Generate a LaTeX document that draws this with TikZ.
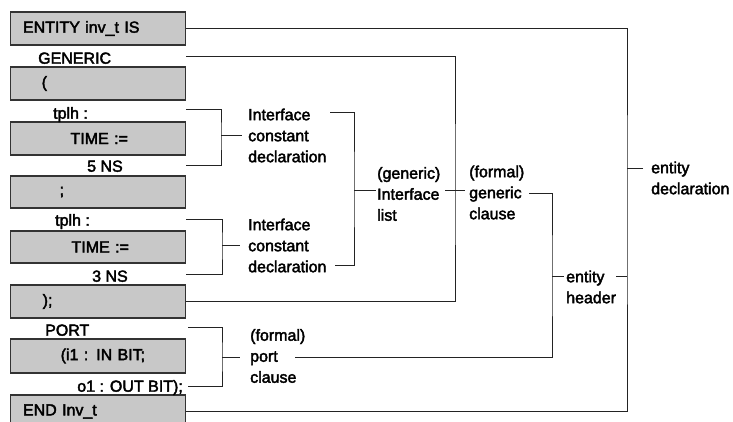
\documentclass[tikz,border=0pt]{standalone}
\usepackage{fontspec}
\setmainfont[FakeBold=2.5]{Liberation Sans}
\usetikzlibrary{calc}
\definecolor{boxgray}{RGB}{200,200,200}
\definecolor{wirec}{RGB}{35,35,35}
\begin{document}
\begin{tikzpicture}[x=1pt,y=-1pt,
  font=\fontsize{16}{21}\selectfont,
  codebox/.style={draw=black!80, fill=boxgray, line width=1.2pt,
    minimum width=175pt, minimum height=33pt, inner sep=0pt,
    text width=175pt, align=left},
  cbox/.style={codebox, align=center},
  code/.style={inner sep=0pt, anchor=base west},
  lbl/.style={inner sep=0pt, align=left, anchor=west},
  wire/.style={line width=1pt, draw=wirec}]
\fill[white] (0,0) rectangle (733,421);
\useasboundingbox (0,0) rectangle (733,421);

% code boxes
\node[codebox] (bent)  at (98.2,28.5) {\hspace*{12.3pt}ENTITY inv\_t IS};
\node[codebox] (bopen) at (98.2,83.5) {\hspace*{31pt}(};
\node[cbox, minimum height=33pt] (btime1) at (98.2,138.5) {\hspace*{2pt}TIME :=};
\node[codebox, minimum height=32pt] (bsemi) at (98.2,192) {\hspace*{49pt};};
\node[cbox, minimum height=32pt] (btime2) at (98.2,247) {\hspace*{4pt}TIME :=};
\node[codebox] (bclose) at (98.2,301.5) {\hspace*{32pt});};
\node[codebox, minimum height=34pt] (bport) at (98.2,356) {\hspace*{50pt}(i1 : IN BIT;};
\node[codebox] (bend)  at (98.2,411.5) {\hspace*{12.3pt}END Inv\_t};

% free code text
\node[code] (tgen)  at (38,63.7)  {GENERIC};
\node[code] (ttp1)  at (53,118.7) {tplh :};
\node[code] (t5ns)  at (87,171.7) {5 NS};
\node[code] (ttp2)  at (55,225.7) {tplh :};
\node[code] (t3ns)  at (92,281.7) {3 NS};
\node[code] (tport) at (45,335.7) {PORT};
\node[code, anchor=base east] (to1) at (183,391.7) {o1 : OUT BIT);};

% labels
\node[lbl] (icd1) at (248,135.5) {Interface\\constant\\declaration};
\node[lbl] (icd2) at (248,245.5) {Interface\\constant\\declaration};
\node[lbl] (gil)  at (377,194)   {(generic)\\Interface\\list};
\node[lbl] (fgc)  at (469,192.5) {(formal)\\generic\\clause};
\node[lbl] (pc)   at (250,356)   {(formal)\\port\\clause};
\node[lbl] (eh)   at (566,287)   {entity\\header};
\node[lbl] (ed)   at (651,178)   {entity\\declaration};

% junction / end coordinates
\coordinate (jd) at (627,200);
\coordinate (jg) at (455,190);
\coordinate (ji) at (354,190);
\coordinate (j1) at (221,135);
\coordinate (j2) at (222,245);
\coordinate (jp) at (222,357);
\coordinate (jh) at (552,276);
\coordinate (gen-out) at (186,56);
\coordinate (t1-out) at (186,109);
\coordinate (n5-out) at (186,165);
\coordinate (t2-out) at (186,219);
\coordinate (n3-out) at (186,274);
\coordinate (port-out) at (188,327);
\coordinate (o1-out) at (188,386);
\coordinate (icd1-out) at (330,112);
\coordinate (icd2-out) at (335,265);
\coordinate (gil-out) at (445,190);
\coordinate (fgc-in) at (465,190);
\coordinate (fgc-out) at (529,193);
\coordinate (pc-out) at (295,357);
\coordinate (eh-out) at (616,276);
\coordinate (ed-in) at (643,168);

% wires
\draw[wire] (bent.east) -| (jd) |- (bend.east);
\draw[wire] (ed-in) -- (ed-in -| jd);
\draw[wire] (gen-out) -| (jg) |- (bclose.east);
\draw[wire] (gil-out) -- (fgc-in);
\draw[wire] (icd1-out) -| (ji) |- (icd2-out);
\draw[wire] (ji) -- ([xshift=-1pt]ji -| gil.west);
\draw[wire] (t1-out) -| (j1) |- (n5-out);
\draw[wire] (j1) -- ([xshift=-6pt]j1 -| icd1.west);
\draw[wire] (t2-out) -| (j2) |- (n3-out);
\draw[wire] (j2) -- ([xshift=-8pt]j2 -| icd2.west);
\draw[wire] (port-out) -| (jp) |- (o1-out);
\draw[wire] (jp) -- ([xshift=-10pt]jp -| pc.west);
\draw[wire] (fgc-out) -| (jh) |- (pc-out);
\draw[wire] (jh) -- ([xshift=-2pt]jh -| eh.west);
\draw[wire] (eh-out) -- (eh-out -| jd);
\end{tikzpicture}
\end{document}
